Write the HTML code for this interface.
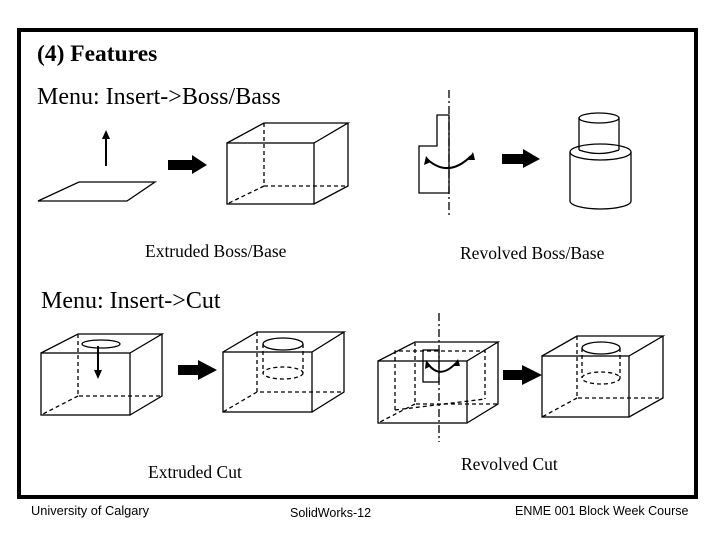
<!DOCTYPE html>
<html><head><meta charset="utf-8"><style>
html,body{margin:0;padding:0;background:#fff;}
svg{display:block;}
.s{font-family:"Liberation Serif",serif;}
.a{font-family:"Liberation Sans",sans-serif;}
</style></head><body>
<svg width="720" height="540" viewBox="0 0 720 540" xmlns="http://www.w3.org/2000/svg">
<rect x="0" y="0" width="720" height="540" fill="#fff"/>
<rect x="19" y="30" width="677" height="467" fill="none" stroke="#000" stroke-width="4"/>
<text x="37" y="61" class="s" font-size="23.5" font-weight="bold">(4) Features</text>
<text x="37" y="104" class="s" font-size="24">Menu: Insert-&gt;Boss/Bass</text>
<text x="41" y="308" class="s" font-size="24">Menu: Insert-&gt;Cut</text>
<text x="145" y="257" class="s" font-size="17.5">Extruded Boss/Base</text>
<text x="460" y="259" class="s" font-size="17.5">Revolved Boss/Base</text>
<text x="148" y="478" class="s" font-size="17.5">Extruded Cut</text>
<text x="461" y="470" class="s" font-size="17.5">Revolved Cut</text>
<text x="31" y="515" class="a" font-size="12.8">University of Calgary</text>
<text x="290" y="517" class="a" font-size="12.5">SolidWorks-12</text>
<text x="515" y="515" class="a" font-size="12.5">ENME 001 Block Week Course</text>

<g fill="none" stroke="#000" stroke-width="1.3">
<polygon points="38,201 79,182 155,182 127,201"/>
<line x1="106" y1="166" x2="106" y2="135" stroke-width="2"/>
<rect x="227" y="143" width="87" height="61"/>
<polyline points="227,143 264,123 348,123 314,143"/>
<polyline points="348,123 348,186 314,204"/>
<g stroke-dasharray="4,3"><polyline points="264,123 264,186 348,186"/><line x1="264" y1="186" x2="227" y2="204"/></g>
<polygon points="437,115 449,115 449,193 419,193 419,146 437,146"/>
<line x1="449" y1="90" x2="449" y2="215" stroke-dasharray="8,3,2,3"/>
<path d="M428,160 Q449,178 471,156" stroke-width="2"/>
<ellipse cx="599" cy="118" rx="20" ry="5"/>
<line x1="579" y1="118" x2="579" y2="150"/><line x1="619" y1="118" x2="619" y2="150"/>
<path d="M579,150 Q599,157 619,150"/>
<path d="M570,152 A30.5,8 0 0 1 631,152 A30.5,8 0 0 1 570,152"/>
<line x1="570" y1="152" x2="570" y2="201"/><line x1="631" y1="152" x2="631" y2="201"/>
<path d="M570,201 A30.5,8 0 0 0 631,201"/>

<rect x="41" y="353" width="89" height="62"/>
<polyline points="41,353 78,334 162,334 130,353"/>
<polyline points="162,334 162,396 130,415"/>
<g stroke-dasharray="4,3"><polyline points="78,334 78,396 162,396"/><line x1="78" y1="396" x2="41" y2="415"/></g>
<ellipse cx="101" cy="344" rx="19" ry="4"/>
<line x1="98" y1="346" x2="98" y2="374" stroke-width="2"/>
<rect x="223" y="352" width="89" height="60"/>
<polyline points="223,352 257,332 344,332 312,352"/>
<polyline points="344,332 344,392 312,412"/>
<g stroke-dasharray="4,3"><polyline points="257,332 257,392 344,392"/><line x1="257" y1="392" x2="223" y2="412"/>
<line x1="263" y1="344" x2="263" y2="373"/><line x1="303" y1="344" x2="303" y2="373"/>
<ellipse cx="283" cy="373" rx="20" ry="6"/></g>
<ellipse cx="283" cy="344" rx="20" ry="6"/>

<rect x="378" y="361" width="89" height="62"/>
<polyline points="378,361 415,342 498,342 467,361"/>
<polyline points="498,342 498,404 467,423"/>
<g stroke-dasharray="4,3"><polyline points="415,342 415,404 498,404"/><line x1="415" y1="404" x2="378" y2="423"/>
<polyline points="395,410 395,351 485,351 485,399"/><line x1="395" y1="410" x2="485" y2="399"/></g>
<rect x="423" y="350" width="16" height="32"/>
<line x1="439" y1="313" x2="439" y2="442" stroke-dasharray="8,3,2,3"/>
<path d="M428,364 Q440,380 456,363" stroke-width="2"/>
<rect x="542" y="356" width="87" height="61"/>
<polyline points="542,356 577,336 663,336 629,356"/>
<polyline points="663,336 663,398 629,417"/>
<g stroke-dasharray="4,3"><polyline points="577,336 577,398 663,398"/><line x1="577" y1="398" x2="542" y2="417"/>
<line x1="582" y1="348" x2="582" y2="378"/><line x1="620" y1="348" x2="620" y2="378"/>
<ellipse cx="601" cy="378" rx="19" ry="6"/></g>
<ellipse cx="601" cy="348" rx="19" ry="6"/>
</g>

<g fill="#000">
<polygon points="106,130 102,139 110,139"/>
<polygon points="98,379 94,370 102,370"/>
<polygon points="426,156 424,165 431,162"/>
<polygon points="473,152 468,160 475,160"/>
<polygon points="426,360 425,369 431,366"/>
<polygon points="458,359 453,366 460,366"/>
<polygon points="168,160 192,160 192,155 207,165 192,174 192,170 168,170"/>
<polygon points="502,154 523,154 523,149 540,159 523,168 523,164 502,164"/>
<polygon points="178,365 198,365 198,360 217,370 198,380 198,375 178,375"/>
<polygon points="503,370 522,370 522,365 542,375 522,385 522,380 503,380"/>
</g>
</svg>
</body></html>
